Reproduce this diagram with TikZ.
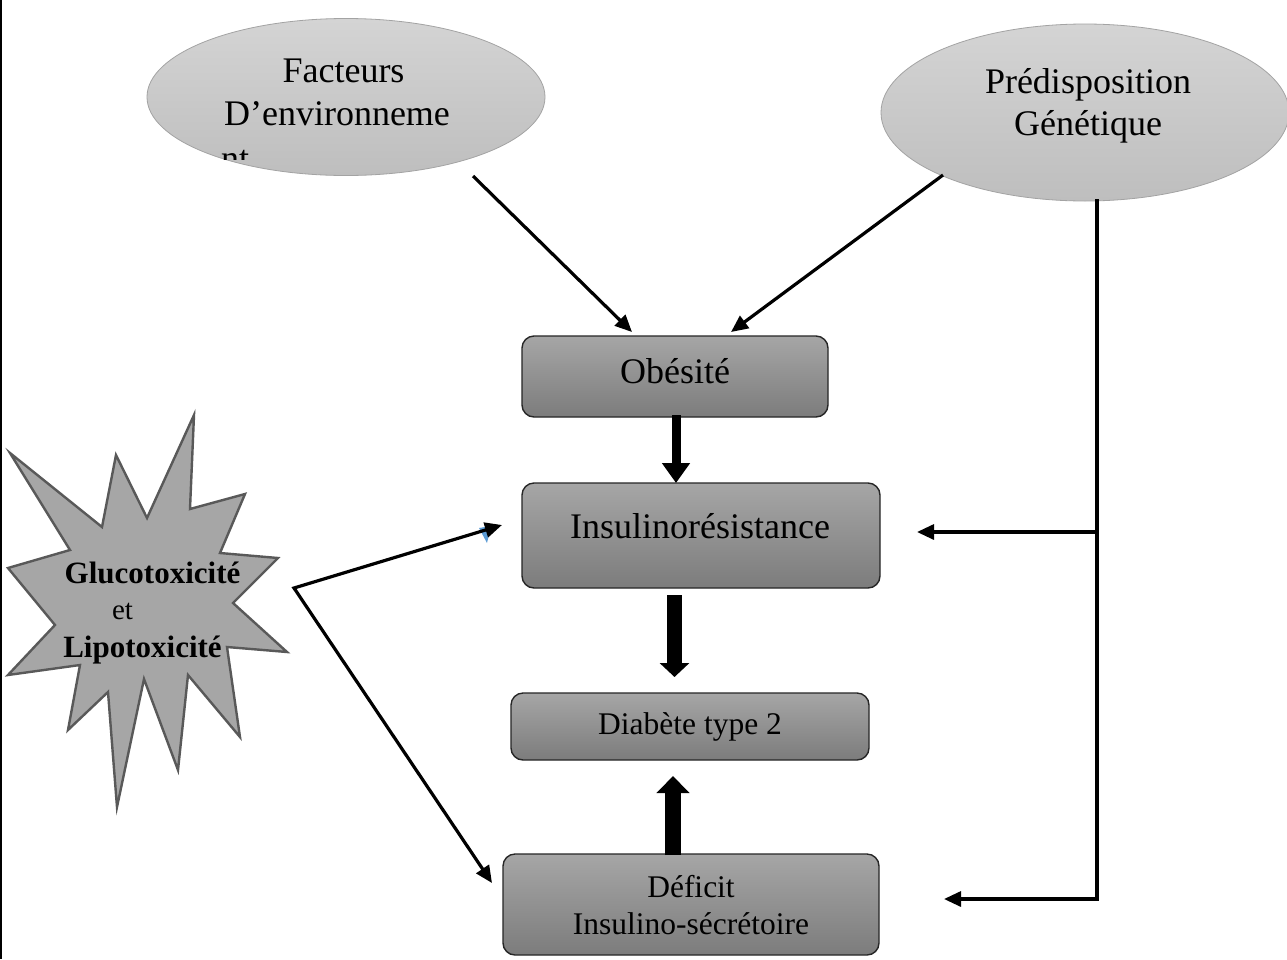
\documentclass[tikz,border=0pt]{standalone}
\usepackage{fontspec}
\setmainfont{Liberation Serif}
\usetikzlibrary{arrows.meta,shapes.geometric}
\definecolor{elltop}{HTML}{D4D4D4}
\definecolor{ellbot}{HTML}{BEBEBE}
\definecolor{elldraw}{HTML}{A3A3A3}
\definecolor{boxtop}{HTML}{A6A6A6}
\definecolor{boxbot}{HTML}{7C7C7C}
\definecolor{boxdraw}{HTML}{262626}
\definecolor{starfill}{HTML}{A6A6A6}
\definecolor{stardraw}{HTML}{595959}
\definecolor{artblue}{HTML}{5B9BD5}
\begin{document}
\begin{tikzpicture}[x=1pt,y=-1pt,
  ellnode/.style={ellipse, draw=elldraw, line width=0.8pt, top color=elltop, bottom color=ellbot, inner sep=0pt},
  boxnode/.style={rectangle, rounded corners=12pt, draw=boxdraw, line width=1.4pt, top color=boxtop, bottom color=boxbot, inner sep=0pt},
  bigtxt/.style={font=\fontsize{36}{43}\selectfont, anchor=base, inner sep=0pt},
  midtxt/.style={font=\fontsize{31.5}{36}\selectfont, anchor=base, inner sep=0pt},
  startxt/.style={font=\fontsize{31}{36}\selectfont\bfseries, anchor=base, inner sep=0pt},
  conn/.style={line width=3.2pt, -{Triangle[length=17pt 0 0,width=15pt 0 0]}},
  biconn/.style={line width=3.2pt, {Triangle[length=17pt 0 0,width=15pt 0 0]}-{Triangle[length=17pt 0 0,width=15pt 0 0]}},
  starshape/.style={fill=starfill, draw=stardraw, line width=2.4pt, line join=miter}
]
\useasboundingbox (0,0) rectangle (1287,959);
\fill[white] (0,0) rectangle (1287,959);
\draw[line width=2.5pt] (1.2,0) -- (1.2,959);

% ellipses
\node[ellnode, minimum width=398pt, minimum height=157pt] (env) at (346,97) {};
\node[ellnode, minimum width=408pt, minimum height=177pt] (pred) at (1085,112.5) {};
\node[bigtxt] (envT1) at (343.5,82) {Facteurs};
\node[bigtxt] (envT2) at (337,125) {D’environneme};
\begin{scope}
  \clip (200,140) rectangle (280,159);
  \node[bigtxt, anchor=base west] (envT3) at (221,170) {nt};
\end{scope}
\node[bigtxt] (predT1) at (1088,93) {Prédisposition};
\node[bigtxt] (predT2) at (1088,135) {Génétique};

% boxes
\node[boxnode, minimum width=306pt, minimum height=81pt] (obe) at (675,376.5) {};
\node[boxnode, minimum width=358pt, minimum height=105pt] (ins) at (701,535.5) {};
\node[boxnode, minimum width=358pt, minimum height=67pt] (dia) at (690,726.5) {};
\node[boxnode, minimum width=376pt, minimum height=101pt] (def) at (691,904.5) {};
\node[bigtxt] (obeT) at (675,383) {Obésité};
\node[bigtxt] (insT) at (700,538) {Insulinorésistance};
\node[midtxt] (diaT) at (690,734) {Diabète type 2};
\node[midtxt] (defT1) at (691,897) {Déficit};
\node[midtxt] (defT2) at (691,934) {Insulino-sécrétoire};

% star
\draw[starshape] (10,453) -- (102,527) -- (116,455) -- (147,518) -- (194,415) -- (190,509)
  -- (245,494) -- (220,553) -- (278,558) -- (233,603) -- (287,652) -- (227,647)
  -- (240,737) -- (188,675) -- (178,770) -- (144,679) -- (117,807) -- (108,692)
  -- (68,730) -- (80,665) -- (8,675) -- (55,625) -- (8,568) -- (70,550) -- cycle;
\node[startxt] (starT1) at (152.5,583) {Glucotoxicité};
\node[midtxt, font=\fontsize{29}{34}\selectfont] (starT2) at (122.5,619) {et};
\node[startxt] (starT3) at (142.5,657) {Lipotoxicité};

% named connector ends
\coordinate (envOut) at (473,176);
\coordinate (obeInL) at (632,332);
\coordinate (predOut) at (943,175);
\coordinate (obeInR) at (731,332);
\coordinate (predDown) at (1097,199);
\coordinate (busIns) at (1097,532);
\coordinate (busDef) at (1097,899);
\coordinate (insInR) at (917,532);
\coordinate (defInR) at (944,899);
\coordinate (starTip) at (294,588);
\coordinate (insInL) at (502,525);
\coordinate (defInL) at (492,883);
\coordinate (obeOut) at (676,415);
\coordinate (insIn) at (676,483);
\coordinate (insOut) at (674.5,595);
\coordinate (diaInTop) at (674.5,677);
\coordinate (defOut) at (673,855);
\coordinate (diaInBot) at (673,776);

% small blue artefact
\fill[artblue] (479,528) -- (491,526) -- (487,543) -- cycle;

% thin connectors
\draw[conn] (envOut) -- (obeInL);
\draw[conn] (predOut) -- (obeInR);
\draw[conn] (predDown) -- (busDef) -- (defInR);
\draw[conn] (busIns) -- (insInR);
\draw[biconn] (insInL) -- (starTip) -- (defInL);

% block arrows
\draw[line width=9pt, -{Triangle[length=20pt 0 0,width=27pt 0 0]}] (obeOut) -- (insIn);
\draw[line width=15pt, -{Triangle[length=14pt 0 0,width=29pt 0 0]}] (insOut) -- (diaInTop);
\draw[line width=16pt, -{Triangle[length=17pt 0 0,width=32pt 0 0]}] (defOut) -- (diaInBot);
\end{tikzpicture}
\end{document}
